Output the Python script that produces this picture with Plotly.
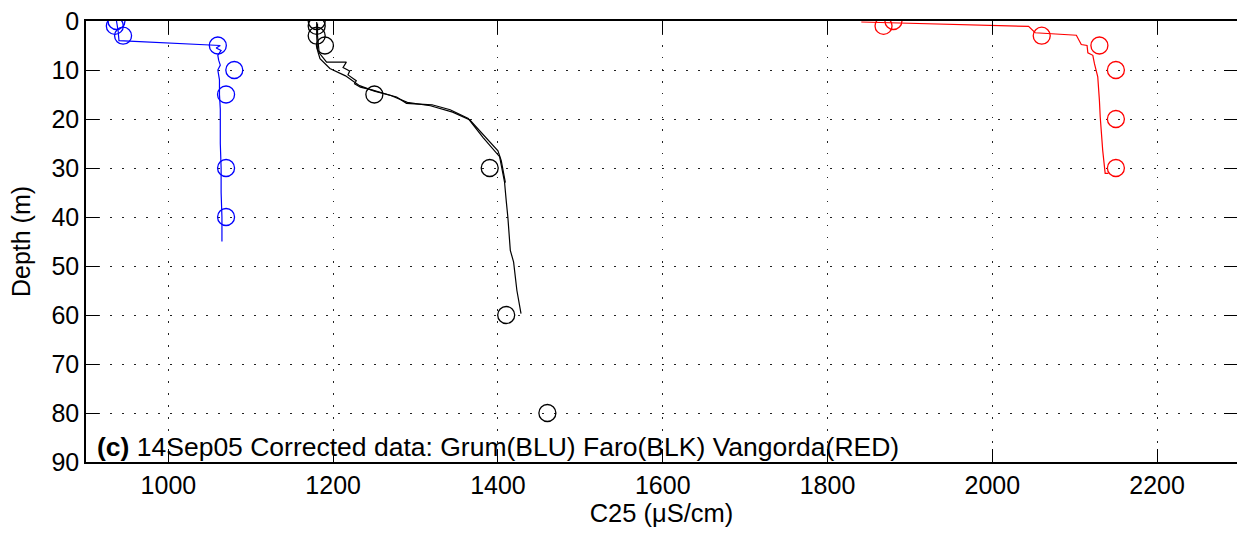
import plotly.graph_objects as go

# ---- Data ----
# Grum (blue)
grum_obs_c25 = [937, 935, 945, 1060, 1080, 1070, 1070, 1070]
grum_obs_depth = [0, 1, 3, 5, 10, 15, 30, 40]
grum_prof_c25 = [937, 938, 939, 940, 1063, 1058, 1064, 1060, 1061, 1063, 1060,
                 1062, 1062, 1063, 1063, 1063, 1064, 1064, 1065, 1065]
grum_prof_depth = [0, 1, 2, 4, 5, 5.5, 6, 7, 8, 9, 10,
                   12, 15, 18, 20, 25, 30, 35, 40, 45]

# Faro (black)
faro_obs_c25 = [1180, 1180, 1180, 1190, 1250, 1390, 1410, 1460]
faro_obs_depth = [0, 1, 3, 5, 15, 30, 60, 80]
faro_prof1_c25 = [1180, 1180, 1181, 1184, 1196, 1215, 1232, 1250, 1277, 1289,
                  1320, 1342, 1364, 1382, 1402, 1408, 1410, 1412, 1415, 1419,
                  1423, 1428]
faro_prof1_depth = [0.2, 3, 6, 7.7, 9.7, 11.2, 13.2, 14.3, 15.5, 16.8,
                    17.1, 18.1, 19.9, 23.8, 27.7, 32.9, 36.6, 40, 46.8, 49.2,
                    55, 59.7]
faro_prof2_c25 = [1181, 1181, 1183, 1192, 1216, 1212, 1220, 1218, 1228, 1226,
                  1233, 1248, 1270, 1290, 1318, 1345, 1366, 1384, 1400, 1404,
                  1409]
faro_prof2_depth = [0.5, 3, 6.5, 8.4, 8.4, 9.5, 10.2, 11, 12.2, 12.8,
                    13.5, 14.1, 15.2, 16.6, 17.3, 18.6, 20.2, 23.5, 26.5, 28.5,
                    33]

# Vangorda (red)
vang_obs_c25 = [1880, 1868, 2060, 2130, 2150, 2150, 2150]
vang_obs_depth = [0, 1, 3, 5, 10, 20, 30]
vang_prof_c25 = [1841, 2044, 2052, 2102, 2108, 2115, 2116, 2122, 2124, 2128,
                 2130, 2131, 2134, 2137, 2141]
vang_prof_depth = [0.2, 1.1, 2.4, 2.9, 4.8, 5.0, 6.5, 7.0, 8.7, 11.4,
                   16.2, 19.6, 26.4, 31.1, 31.1]

x_ticks = [1000, 1200, 1400, 1600, 1800, 2000, 2200]
y_ticks = [0, 10, 20, 30, 40, 50, 60, 70, 80, 90]
x_range = [900, 2297]
y_range = [90, 0]

FONT = "Liberation Sans, Arial, Helvetica, sans-serif"

fig = go.Figure()

def prof(x, y, color):
    fig.add_trace(go.Scatter(x=x, y=y, mode="lines",
                             line=dict(color=color, width=1.2),
                             showlegend=False, hoverinfo="skip"))

def obs(x, y, color):
    fig.add_trace(go.Scatter(x=x, y=y, mode="markers",
                             marker=dict(symbol="circle-open", size=17,
                                         color=color,
                                         line=dict(color=color, width=1.3)),
                             showlegend=False, hoverinfo="skip"))

prof(grum_prof_c25, grum_prof_depth, "#0000FF")
obs(grum_obs_c25, grum_obs_depth, "#0000FF")
prof(faro_prof1_c25, faro_prof1_depth, "#000000")
prof(faro_prof2_c25, faro_prof2_depth, "#000000")
obs(faro_obs_c25, faro_obs_depth, "#000000")
prof(vang_prof_c25, vang_prof_depth, "#FF0000")
obs(vang_obs_c25, vang_obs_depth, "#FF0000")

# invisible trace so the right-hand tick axis is drawn
fig.add_trace(go.Scatter(x=[x_range[0]], y=[y_range[1]], yaxis="y2",
                         mode="markers", marker=dict(opacity=0),
                         showlegend=False, hoverinfo="skip"))

axis_common = dict(
    showline=True, linecolor="black", linewidth=1.5,
    ticks="inside", ticklen=13, tickwidth=1, tickcolor="black",
    showgrid=True, gridcolor="#222222", gridwidth=1, griddash="1.5px,10.5px",
    zeroline=False, tickfont=dict(family=FONT, size=25, color="black"),
)

fig.update_xaxes(range=x_range, tickvals=x_ticks, mirror="ticks",
                 ticktext=[str(v) for v in x_ticks],
                 title=dict(text="C25 (\u03bcS/cm)", standoff=4,
                            font=dict(family=FONT, size=25.5, color="black")),
                 **axis_common)
fig.update_yaxes(range=y_range, tickvals=y_ticks, mirror=False,
                 ticktext=[str(v) for v in y_ticks],
                 title=dict(text="Depth (m)", standoff=14,
                            font=dict(family=FONT, size=25, color="black")),
                 **axis_common)

fig.update_layout(
    yaxis2=dict(overlaying="y", side="right", range=y_range,
                tickvals=y_ticks, ticks="inside", ticklen=13, tickwidth=1,
                tickcolor="black", showline=False, showgrid=False,
                zeroline=False, showticklabels=False),
)

fig.add_annotation(xref="paper", yref="paper", x=0.008, y=0,
                   xanchor="left", yanchor="bottom", yshift=-2,
                   showarrow=False,
                   text="<b>(c)</b> 14Sep05 Corrected data: Grum(BLU) Faro(BLK) Vangorda(RED)",
                   font=dict(family=FONT, size=26.5, color="black"))

fig.update_layout(width=1237, height=533,
                  margin=dict(l=86, r=0, t=21, b=71),
                  paper_bgcolor="white", plot_bgcolor="white",
                  font=dict(family=FONT, size=25, color="black"))

fig.write_html("out.html")
